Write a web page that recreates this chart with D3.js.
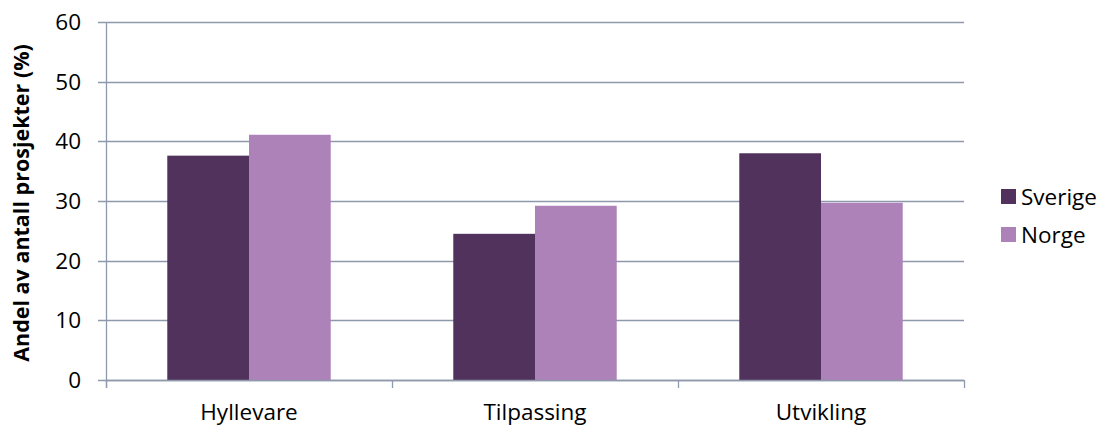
<!DOCTYPE html>
<html>
<head>
<meta charset="utf-8">
<script src="https://cdn.jsdelivr.net/npm/d3@7"></script>
<style>
  html, body { margin: 0; padding: 0; background: #fff; }
  svg text { font-family: "Open Sans", "Liberation Sans", sans-serif; fill: #000; }
</style>
</head>
<body>
<svg id="chart" width="1102" height="426"></svg>
<script>
// Share of projects by type, Sweden vs Norway
const categories = ["Hyllevare", "Tilpassing", "Utvikling"];
const seriesNames = ["Sverige", "Norge"];
const sverige = [37.6, 24.5, 38.0];
const norge = [41.1, 29.2, 29.7];
const yTicks = [0, 10, 20, 30, 40, 50, 60];
const yTitle = "Andel av antall prosjekter (%)";

const colors = { Sverige: "#51325c", Norge: "#ac82b9" };
const gridColor = "#8e99ab";
const labelSize = "22.5px";

const svg = d3.select("#chart");
const plot = { left: 106, right: 964, top: 22, bottom: 380 };

const x = d3.scaleBand().domain(categories).range([plot.left, plot.right]).paddingInner(0).paddingOuter(0);
const gap = 1.5; // gap width relative to one bar
const barW = x.bandwidth() / (seriesNames.length + gap);
const y = d3.scaleLinear().domain([0, 60]).range([plot.bottom, plot.top]);

// horizontal gridlines with left tick stubs
const g = svg.append("g");
g.selectAll("line.grid").data(yTicks).join("line")
  .attr("x1", plot.left - 8).attr("x2", plot.right)
  .attr("y1", d => Math.round(y(d)) + 0.5).attr("y2", d => Math.round(y(d)) + 0.5)
  .attr("stroke", gridColor).attr("stroke-width", 1.3);

// y axis labels
g.selectAll("text.ytick").data(yTicks).join("text")
  .attr("x", 81).attr("y", d => y(d))
  .attr("dy", "0.36em")
  .attr("text-anchor", "end")
  .style("font-size", labelSize)
  .text(d => d);

// bars
const seriesData = [sverige, norge];
seriesNames.forEach((name, si) => {
  svg.append("g").selectAll("rect").data(categories).join("rect")
    .attr("x", (c) => x(c) + barW * gap / 2 + si * barW)
    .attr("width", barW)
    .attr("y", (c, i) => y(seriesData[si][i]))
    .attr("height", (c, i) => y(0) - y(seriesData[si][i]))
    .attr("fill", colors[name]);
});

// axes lines
svg.append("line")
  .attr("x1", plot.left + 0.5).attr("x2", plot.left + 0.5)
  .attr("y1", plot.top).attr("y2", plot.bottom + 8)
  .attr("stroke", gridColor).attr("stroke-width", 1.3);
svg.append("line")
  .attr("x1", plot.left).attr("x2", plot.right)
  .attr("y1", plot.bottom + 0.5).attr("y2", plot.bottom + 0.5)
  .attr("stroke", gridColor).attr("stroke-width", 1.3);

// category boundary ticks
const bounds = categories.map(c => x(c)).concat([x(categories[categories.length - 1]) + x.bandwidth()]);
svg.append("g").selectAll("line").data(bounds).join("line")
  .attr("x1", d => Math.round(d) + 0.5).attr("x2", d => Math.round(d) + 0.5)
  .attr("y1", plot.bottom).attr("y2", plot.bottom + 8)
  .attr("stroke", gridColor).attr("stroke-width", 1.3);

// category labels
svg.append("g").selectAll("text").data(categories).join("text")
  .attr("x", c => x(c) + x.bandwidth() / 2)
  .attr("y", 419.5)
  .attr("text-anchor", "middle")
  .style("font-size", labelSize)
  .text(c => c);

// y axis title
svg.append("text")
  .attr("transform", "translate(29,203) rotate(-90)")
  .attr("text-anchor", "middle")
  .style("font-size", "21.5px")
  .style("font-weight", "bold")
  .text(yTitle);

// legend
const legend = svg.append("g");
seriesNames.forEach((name, i) => {
  const ly = 189 + i * 38;
  legend.append("rect")
    .attr("x", 1001).attr("y", ly).attr("width", 15).attr("height", 15)
    .attr("fill", colors[name]);
  legend.append("text")
    .attr("x", 1021).attr("y", ly + 15.5)
    .style("font-size", labelSize)
    .text(name);
});
</script>
</body>
</html>
